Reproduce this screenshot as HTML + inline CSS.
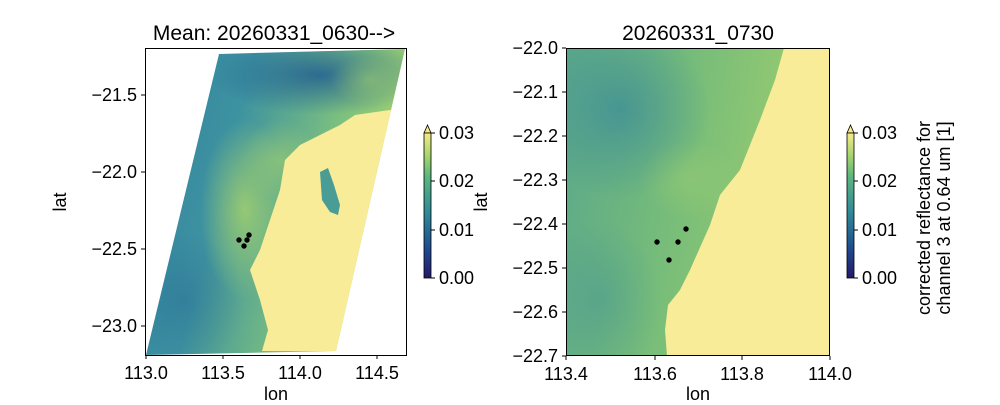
<!DOCTYPE html>
<html><head><meta charset="utf-8"><style>
body{margin:0;background:#fff}
svg text{font-family:"Liberation Sans",sans-serif;fill:#000}
</style></head><body>
<svg width="1000" height="400" xmlns="http://www.w3.org/2000/svg">
<defs>
<linearGradient id="cb" x1="0" y1="1" x2="0" y2="0">
<stop offset="0" stop-color="#231a6a"/><stop offset="0.2" stop-color="#1f4a8f"/>
<stop offset="0.45" stop-color="#2d8a98"/><stop offset="0.7" stop-color="#5cb67f"/>
<stop offset="0.85" stop-color="#a9d66c"/><stop offset="1" stop-color="#f5ea88"/></linearGradient>
<linearGradient id="w1" x1="0" y1="0" x2="1" y2="0.3">
<stop offset="0" stop-color="#2e7fa0"/><stop offset="0.4" stop-color="#3e93a0"/><stop offset="0.75" stop-color="#7dc07e"/><stop offset="1" stop-color="#a3d16f"/></linearGradient>
<linearGradient id="w2" x1="0" y1="0" x2="1" y2="0.2">
<stop offset="0" stop-color="#5aa88a"/><stop offset="0.5" stop-color="#78bd79"/><stop offset="1" stop-color="#a0cf6e"/></linearGradient>
<radialGradient id="g1" cx="0.5" cy="0.5" r="0.5"><stop offset="0" stop-color="#9dcd70" stop-opacity="0.9"/><stop offset="1" stop-color="#9dcd70" stop-opacity="0"/></radialGradient>
<radialGradient id="b1" cx="0.5" cy="0.5" r="0.5"><stop offset="0" stop-color="#1e5a92" stop-opacity="0.8"/><stop offset="1" stop-color="#1e5a92" stop-opacity="0"/></radialGradient>
<radialGradient id="t1" cx="0.5" cy="0.5" r="0.5"><stop offset="0" stop-color="#3f8f96" stop-opacity="0.8"/><stop offset="1" stop-color="#3f8f96" stop-opacity="0"/></radialGradient>
<clipPath id="sw"><polygon points="219,54 405,49 336,351 146,355"/></clipPath>
<clipPath id="rp"><rect x="566" y="48" width="264" height="308"/></clipPath>
</defs>
<!-- left panel -->
<g clip-path="url(#sw)">
<rect x="140" y="45" width="270" height="315" fill="url(#w1)"/>
<ellipse cx="320" cy="75" rx="110" ry="40" fill="url(#b1)"/>
<ellipse cx="370" cy="80" rx="40" ry="25" fill="url(#g1)" opacity="0.6"/>
<ellipse cx="185" cy="300" rx="60" ry="70" fill="url(#b1)" opacity="0.4"/>
<ellipse cx="245" cy="210" rx="45" ry="90" fill="url(#g1)"/>
<ellipse cx="280" cy="160" rx="40" ry="40" fill="url(#g1)" opacity="0.7"/>
<polygon points="390,110 402,110 336,351 262,351 268,330 260,300 250,270 260,250 280,190 285,160 300,145 340,125 355,115" fill="#f9ec98"/>
<path d="M320,172 L328,168 L334,185 L340,205 L338,215 L330,212 L322,200 Z" fill="#4a9d95"/>
</g>
<rect x="145.5" y="48.5" width="261" height="307" fill="none" stroke="#000"/>
<g fill="#000"><circle cx="239" cy="240" r="2.7"/><circle cx="249" cy="235" r="2.7"/><circle cx="247" cy="240" r="2.7"/><circle cx="244" cy="246" r="2.7"/></g>
<g stroke="#000"><line x1="146" y1="355" x2="146" y2="359"/><line x1="223" y1="355" x2="223" y2="359"/><line x1="300" y1="355" x2="300" y2="359"/><line x1="377" y1="355" x2="377" y2="359"/>
<line x1="141" y1="95" x2="145" y2="95"/><line x1="141" y1="172" x2="145" y2="172"/><line x1="141" y1="249" x2="145" y2="249"/><line x1="141" y1="326" x2="145" y2="326"/></g>
<g font-size="18" text-anchor="end"><text x="137" y="101">−21.5</text><text x="137" y="178">−22.0</text><text x="137" y="255">−22.5</text><text x="137" y="332">−23.0</text></g>
<g font-size="18" text-anchor="middle"><text x="146" y="379">113.0</text><text x="223" y="379">113.5</text><text x="300" y="379">114.0</text><text x="377" y="379">114.5</text>
<text x="276" y="400">lon</text><text x="274" y="40" font-size="21">Mean: 20260331_0630--&gt;</text></g>
<text transform="translate(66,202) rotate(-90)" font-size="18" text-anchor="middle">lat</text>
<!-- left colorbar -->
<polygon points="424,133 427.5,125 431,133" fill="#f5ea88" stroke="#000" stroke-width="0.8"/>
<rect x="424" y="133" width="7" height="145" fill="url(#cb)" stroke="#000" stroke-width="0.8"/>
<g stroke="#000"><line x1="431" y1="133" x2="435" y2="133"/><line x1="431" y1="181" x2="435" y2="181"/><line x1="431" y1="230" x2="435" y2="230"/><line x1="431" y1="278" x2="435" y2="278"/></g>
<g font-size="18"><text x="439" y="139">0.03</text><text x="439" y="187">0.02</text><text x="439" y="236">0.01</text><text x="439" y="284">0.00</text></g>
<!-- right panel -->
<g clip-path="url(#rp)">
<rect x="566" y="48" width="264" height="308" fill="url(#w2)"/>
<ellipse cx="620" cy="110" rx="90" ry="90" fill="url(#t1)"/>
<ellipse cx="600" cy="300" rx="60" ry="80" fill="url(#t1)" opacity="0.5"/>
<ellipse cx="690" cy="180" rx="50" ry="40" fill="url(#g1)" opacity="0.5"/>
<polygon points="784,48 830,48 830,356 667,356 665,330 668,305 680,290 690,270 710,225 720,195 740,170 760,120 775,80" fill="#f9ec98"/>
</g>
<rect x="566.5" y="48.5" width="263" height="307" fill="none" stroke="#000"/>
<g fill="#000"><circle cx="657" cy="242" r="2.7"/><circle cx="678" cy="242" r="2.7"/><circle cx="686" cy="229" r="2.7"/><circle cx="669" cy="260" r="2.7"/></g>
<g stroke="#000"><line x1="566" y1="356" x2="566" y2="360"/><line x1="655" y1="356" x2="655" y2="360"/><line x1="742" y1="356" x2="742" y2="360"/><line x1="830" y1="356" x2="830" y2="360"/>
<line x1="562" y1="48" x2="566" y2="48"/><line x1="562" y1="92" x2="566" y2="92"/><line x1="562" y1="136" x2="566" y2="136"/><line x1="562" y1="180" x2="566" y2="180"/><line x1="562" y1="224" x2="566" y2="224"/><line x1="562" y1="268" x2="566" y2="268"/><line x1="562" y1="312" x2="566" y2="312"/><line x1="562" y1="356" x2="566" y2="356"/></g>
<g font-size="18" text-anchor="end"><text x="558" y="54">−22.0</text><text x="558" y="98">−22.1</text><text x="558" y="142">−22.2</text><text x="558" y="186">−22.3</text><text x="558" y="230">−22.4</text><text x="558" y="274">−22.5</text><text x="558" y="318">−22.6</text><text x="558" y="362">−22.7</text></g>
<g font-size="18" text-anchor="middle"><text x="566" y="380">113.4</text><text x="655" y="380">113.6</text><text x="742" y="380">113.8</text><text x="830" y="380">114.0</text>
<text x="698" y="400">lon</text><text x="698" y="40" font-size="21">20260331_0730</text></g>
<text transform="translate(487,202) rotate(-90)" font-size="18" text-anchor="middle">lat</text>
<!-- right colorbar -->
<polygon points="847,133 850.5,125 854,133" fill="#f5ea88" stroke="#000" stroke-width="0.8"/>
<rect x="847" y="133" width="7" height="145" fill="url(#cb)" stroke="#000" stroke-width="0.8"/>
<g stroke="#000"><line x1="854" y1="133" x2="858" y2="133"/><line x1="854" y1="181" x2="858" y2="181"/><line x1="854" y1="230" x2="858" y2="230"/><line x1="854" y1="278" x2="858" y2="278"/></g>
<g font-size="18"><text x="862" y="139">0.03</text><text x="862" y="187">0.02</text><text x="862" y="236">0.01</text><text x="862" y="284">0.00</text></g>
<g font-size="18" text-anchor="middle"><text transform="translate(930,218) rotate(-90)">corrected reflectance for</text><text transform="translate(950,218) rotate(-90)">channel 3 at 0.64 um [1]</text></g>
</svg>
</body></html>
